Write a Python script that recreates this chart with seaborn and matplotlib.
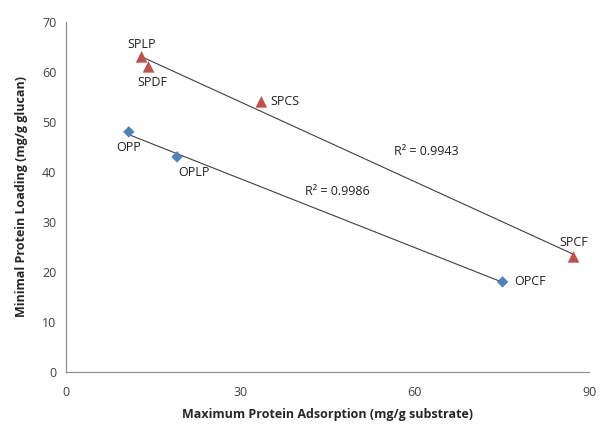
import matplotlib
matplotlib.use('Agg')
import matplotlib.pyplot as plt
import numpy as np
import pandas as pd
import seaborn as sns

# values
s_names = ['SPLP', 'SPDF', 'SPCS', 'SPCF']
s_adsorption = [13.0, 14.2, 33.6, 87.3]
s_loading = [63.0, 61.0, 54.0, 23.0]

o_names = ['OPP', 'OPLP', 'OPCF']
o_adsorption = [10.8, 19.1, 75.1]
o_loading = [48.0, 43.0, 18.0]

s_r2 = 'R² = 0.9943'
o_r2 = 'R² = 0.9986'

x_ticks = [0, 30, 60, 90]
y_ticks = [0, 10, 20, 30, 40, 50, 60, 70]

sns.set_style('white')
plt.rcParams['font.family'] = ['Open Sans', 'DejaVu Sans']

s_df = pd.DataFrame({'x': s_adsorption, 'y': s_loading, 'name': s_names})
o_df = pd.DataFrame({'x': o_adsorption, 'y': o_loading, 'name': o_names})

fig = plt.figure(figsize=(6, 4.37), dpi=100)
ax = fig.add_axes([0.11, 0.149, 0.872, 0.801])

line_kws = dict(color='#404040', lw=0.8)
sns.regplot(data=s_df, x='x', y='y', scatter=False, ci=None, ax=ax, line_kws=line_kws)
sns.regplot(data=o_df, x='x', y='y', scatter=False, ci=None, ax=ax, line_kws=line_kws)

sns.scatterplot(data=s_df, x='x', y='y', marker='^', s=70, color='#C0504D',
                edgecolor='none', ax=ax, zorder=3)
sns.scatterplot(data=o_df, x='x', y='y', marker='D', s=34, color='#4F81BD',
                edgecolor='none', ax=ax, zorder=3)

# point labels: (dx, dy) in points
s_off = {'SPLP': (0, 9), 'SPDF': (3, -11), 'SPCS': (17, 0), 'SPCF': (0, 10)}
o_off = {'OPP': (0, -11), 'OPLP': (12, -11), 'OPCF': (20, 0)}
for df, off in ((s_df, s_off), (o_df, o_off)):
    for _, r in df.iterrows():
        ax.annotate(r['name'], (r['x'], r['y']), xytext=off[r['name']],
                    textcoords='offset points', ha='center', va='center',
                    fontsize=9, color='#202020')

ax.text(62.0, 44.0, s_r2, fontsize=9, ha='center', va='center', color='#202020')
ax.text(46.7, 36.0, o_r2, fontsize=9, ha='center', va='center', color='#202020')

ax.set_xlim(0, 90)
ax.set_ylim(0, 70)
ax.set_xticks(x_ticks)
ax.set_yticks(y_ticks)
ax.tick_params(length=0, labelsize=9, labelcolor='#404040', pad=10)
ax.tick_params(axis='y', pad=7)
for side in ('top', 'right'):
    ax.spines[side].set_visible(False)
for side in ('left', 'bottom'):
    ax.spines[side].set_color('#909090')
    ax.spines[side].set_linewidth(0.9)

ax.set_xlabel('Maximum Protein Adsorption (mg/g substrate)', fontsize=9,
              fontweight='bold', labelpad=7)
ax.set_ylabel('Minimal Protein Loading (mg/g glucan)', fontsize=9,
              fontweight='bold', labelpad=10)

fig.savefig('out.png', dpi=100)
